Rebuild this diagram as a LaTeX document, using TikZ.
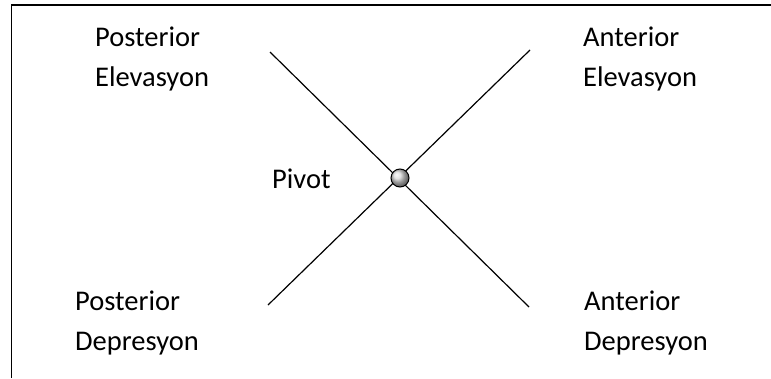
\documentclass[tikz,border=0pt]{standalone}
\usepackage{fontspec}
\setmainfont{Carlito}
\begin{document}
\begin{tikzpicture}[x=1pt,y=-1pt,
  lbl/.style={anchor=base west,align=left,inner sep=0pt,font=\fontsize{28.5}{40}\selectfont},
  axis/.style={line width=1.2pt},
  ball/.style={circle,draw,line width=1pt,inner sep=0pt,minimum size=18pt,ball color=gray!30}]
\useasboundingbox (0,0) rectangle (771,378);
% frame, open to the right and below
\draw[line width=1.5pt] (11.5,378) -- (11.5,5) -- (771,5);

% the two axes and the pivot
\coordinate (pe) at (270,52);
\coordinate (ad) at (529,307);
\coordinate (ae) at (530,50);
\coordinate (pd) at (268,305);
\draw[axis] (pe) -- (ad);
\draw[axis] (ae) -- (pd);
\node[ball] (ballpivot) at (400,178) {};

% labels (anchored at the baseline of their last line)
\node[lbl] (postelev) at (95,86) {Posterior\\Elevasyon};
\node[lbl] (antelev) at (583,86) {Anterior\\Elevasyon};
\node[lbl] (pivot) at (272,188) {Pivot};
\node[lbl] (postdep) at (75,350) {Posterior\\Depresyon};
\node[lbl] (antdep) at (584,350) {Anterior\\Depresyon};
\end{tikzpicture}
\end{document}
